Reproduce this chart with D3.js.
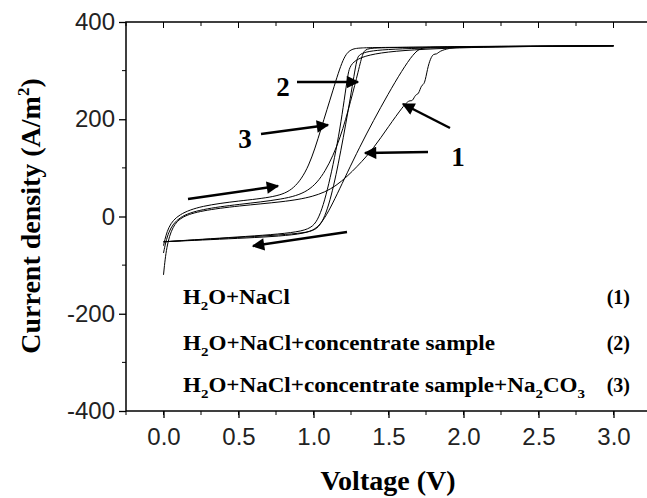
<!DOCTYPE html>
<html><head><meta charset="utf-8">
<script src="https://cdn.jsdelivr.net/npm/d3@7"></script>
<style>body{margin:0;background:#fff}</style></head>
<body><svg id="c" width="647" height="498"></svg>
<script>
const xTicks=[0,0.5,1,1.5,2,2.5,3];
const yTicks=[-400,-200,0,200,400];
const curve1Fwd=[[0,-120],[0.02,-60],[0.06,-20],[0.12,0],[0.25,12],[0.5,22],[0.8,30],[1.0,40],[1.15,60],[1.3,105],[1.4,140],[1.5,185],[1.6,228],[1.64,240],[1.66,236],[1.68,252],[1.7,250],[1.72,272],[1.74,270],[1.76,305],[1.78,325],[1.8,335],[1.82,333],[1.84,340],[1.9,346],[2.0,350],[3.0,351]];
const curve1Rev=[[3.0,351],[2.0,350],[1.75,348],[1.68,346],[1.5,255],[1.3,140],[1.15,40],[1.05,-20],[0.95,-38],[0.5,-45],[0,-52]];
const curve2Fwd=[[0,-75],[0.03,-30],[0.1,0],[0.25,15],[0.5,25],[0.8,35],[0.97,50],[1.08,90],[1.18,160],[1.25,240],[1.3,300],[1.33,340],[1.36,346],[1.5,348],[3,351]];
const curve2Rev=[[3,351],[1.32,347],[1.29,330],[1.25,250],[1.18,130],[1.12,40],[1.05,-25],[0.95,-35],[0.5,-43],[0,-52]];
const curve3Fwd=[[0,-60],[0.03,-20],[0.1,5],[0.25,22],[0.5,32],[0.75,40],[0.87,55],[0.97,100],[1.05,180],[1.13,260],[1.2,330],[1.25,344],[1.3,347],[1.5,348],[3,351]];
const curve3Rev=[[3,351],[1.27,347],[1.23,300],[1.18,180],[1.1,60],[1.03,-15],[0.94,-33],[0.5,-42],[0,-52]];
const legend=[["H","2","O+NaCl","","","(1)"],["H","2","O+NaCl+concentrate sample","","","(2)"],["H","2","O+NaCl+concentrate sample+Na","2","CO","(3)"]];

const svg=d3.select("#c");
const L=126,R=651,T=22,B=411;
const x=d3.scaleLinear().domain([-0.25,3.25]).range([L,R]);
const y=d3.scaleLinear().domain([-400,400]).range([B,T]);
const serif="'Liberation Serif','Times New Roman',serif", sans="'Liberation Sans',Arial,sans-serif";

svg.append("rect").attr("x",L).attr("y",T).attr("width",R-L).attr("height",B-T).attr("fill","none").attr("stroke","#000").attr("stroke-width",1.5);
const minX=d3.range(-0.25,3.26,0.25);
const gx=svg.append("g").attr("transform",`translate(0,${B})`);
gx.call(d3.axisBottom(x).tickValues(xTicks).tickFormat(d3.format(".1f")).tickSize(7));
gx.selectAll(".tick text").attr("font-family",sans).attr("font-size",24).attr("fill","#222").attr("dy","1.0em");
gx.select(".domain").remove();
gx.selectAll(".tick line").attr("stroke-width",1.3);
minX.forEach(v=>{svg.append("line").attr("x1",x(v)).attr("x2",x(v)).attr("y1",B).attr("y2",B+4).attr("stroke","#000");
 svg.append("line").attr("x1",x(v)).attr("x2",x(v)).attr("y1",T).attr("y2",T+(xTicks.includes(+v.toFixed(2))?6:4)).attr("stroke","#000");});
const gy=svg.append("g").attr("transform",`translate(${L},0)`);
gy.call(d3.axisLeft(y).tickValues(yTicks).tickSize(7).tickFormat(d=>String(d)));
gy.select(".domain").remove();
gy.selectAll(".tick text").attr("font-family",sans).attr("font-size",24).attr("fill","#222").attr("x",-11);
gy.selectAll(".tick line").attr("stroke-width",1.3);
d3.range(-300,400,200).forEach(v=>svg.append("line").attr("x1",L-4).attr("x2",L).attr("y1",y(v)).attr("y2",y(v)).attr("stroke","#000"));

const line=d3.line().x(d=>x(d[0])).y(d=>y(d[1])).curve(d3.curveBasis);
[curve1Fwd,curve1Rev,curve2Fwd,curve2Rev,curve3Fwd,curve3Rev].forEach(c=>svg.append("path").attr("d",line(c)).attr("fill","none").attr("stroke","#000").attr("stroke-width",1));

svg.append("defs").append("marker").attr("id","ah").attr("viewBox","0 0 10 10").attr("refX",9).attr("refY",5)
 .attr("markerWidth",7).attr("markerHeight",5).attr("orient","auto").attr("markerUnits","strokeWidth")
 .append("path").attr("d","M0,0L10,5L0,10z");
const arrows=[[297,82,358,82],[261,134,328,125],[428,152,365,153],[450,128,403,104],[188,199,278,186],[347,232,253,246]];
arrows.forEach(a=>svg.append("line").attr("x1",a[0]).attr("y1",a[1]).attr("x2",a[2]).attr("y2",a[3]).attr("stroke","#000").attr("stroke-width",2.5).attr("marker-end","url(#ah)"));
[["2",283,96],["3",245,148],["1",458,166]].forEach(t=>svg.append("text").text(t[0]).attr("x",t[1]).attr("y",t[2]).attr("text-anchor","middle").attr("font-family",serif).attr("font-weight","bold").attr("font-size",27));

const rows=[304,350,392], widths=[107,312,402];
legend.forEach((r,i)=>{
 const t=svg.append("text").attr("x",183).attr("y",rows[i]).attr("font-family",serif).attr("font-weight","bold").attr("font-size",20)
  .attr("textLength",widths[i]).attr("lengthAdjust","spacingAndGlyphs");
 t.append("tspan").text(r[0]);
 t.append("tspan").text(r[1]).attr("font-size",13).attr("dy",6);
 t.append("tspan").text(r[2]).attr("dy",-6);
 if(r[3]){t.append("tspan").text(r[3]).attr("font-size",13).attr("dy",6);t.append("tspan").text(r[4]).attr("dy",-6);t.append("tspan").text("3").attr("font-size",13).attr("dy",6);}
 svg.append("text").text(r[5]).attr("x",630).attr("y",rows[i]).attr("text-anchor","end").attr("font-family",serif).attr("font-weight","bold").attr("font-size",20);
});
svg.append("text").text("Voltage (V)").attr("x",388).attr("y",490).attr("text-anchor","middle").attr("font-family",serif).attr("font-weight","bold").attr("font-size",28);
const yt=svg.append("text").attr("transform","translate(40,216) rotate(-90)").attr("text-anchor","middle").attr("font-family",serif).attr("font-weight","bold").attr("font-size",28);
yt.append("tspan").text("Current density (A/m");
yt.append("tspan").text("2").attr("font-size",17).attr("dy",-11);
yt.append("tspan").text(")").attr("dy",11);
</script></body></html>
